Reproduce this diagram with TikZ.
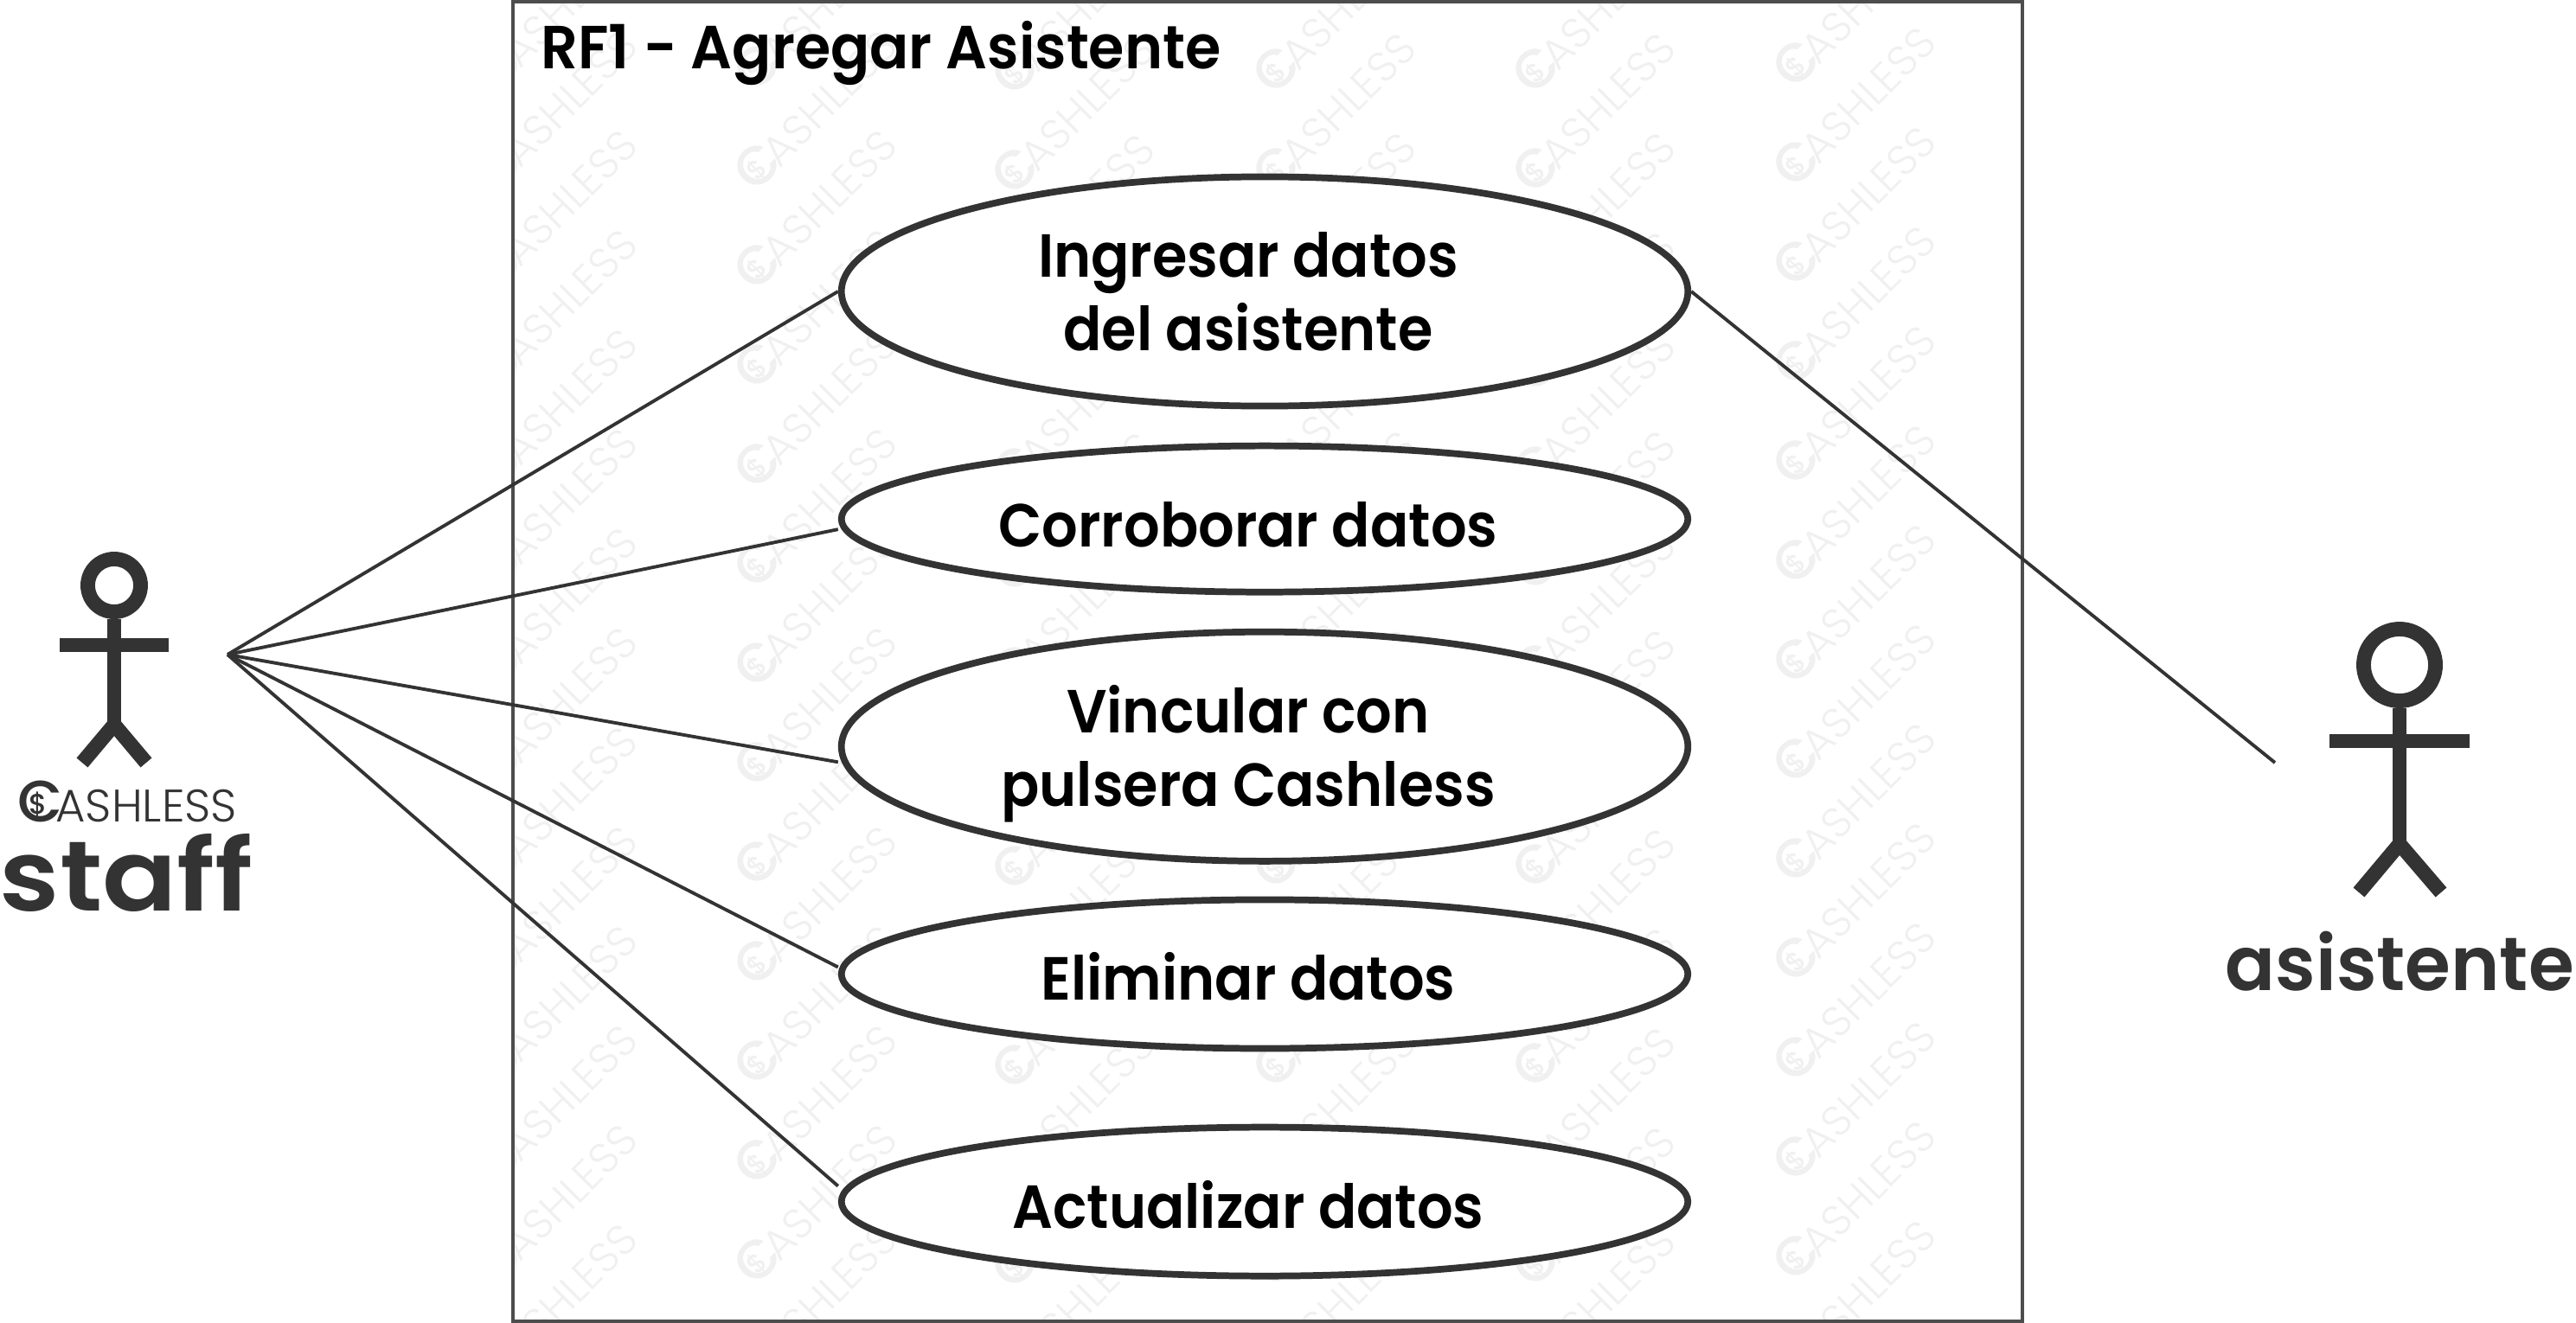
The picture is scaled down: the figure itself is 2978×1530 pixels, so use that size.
\documentclass[tikz,border=0pt]{standalone}
\usepackage{fontspec}
\usetikzlibrary{shapes.geometric}
\newfontfamily\semifont[FakeStretch=.93]{Poppins SemiBold}
\newfontfamily\titlefont[FakeStretch=.95]{Poppins SemiBold}
\newfontfamily\staffont[FakeStretch=1.11]{Poppins SemiBold}
\newfontfamily\guestfont[FakeStretch=.98]{Poppins SemiBold}
\newfontfamily\medfont{Poppins Medium}
\newfontfamily\lightfont{Poppins Light}
\definecolor{ink}{HTML}{333333}
\definecolor{boxgrey}{HTML}{4D4D4D}
\definecolor{wmgrey}{HTML}{F0F0F0}
% the round C with a dollar in it, then the rest of the word
\newsavebox{\ringbox}
\newcommand{\cashlogo}[1]{{\lightfont\fontsize{#1}{#1}\selectfont\mbox{\sbox{\ringbox}{\medfont\fontsize{1.28\dimexpr#1pt\relax}{#1}\selectfont C}\usebox{\ringbox}\llap{\makebox[\wd\ringbox][c]{\raisebox{.16em}{\medfont\fontsize{.62\dimexpr#1pt\relax}{#1}\selectfont\$}\kern.1em}}\kern-.16em ASHLESS}}}
\newcommand{\lft}{\hspace*{.38cm}}
\tikzset{
    usecase/.style={ellipse, draw=ink, fill=white, line width=2.2pt, inner sep=0pt, minimum width=9.78cm,
        align=center, text=black, font=\semifont\fontsize{20}{24.2}\selectfont},
    link/.style={draw=ink, line width=1.1pt},
    actorline/.style={draw=ink, line width=4.8pt},
    actorname/.style={text=ink, inner sep=0pt, anchor=base west},
    mark wm/.style={text=wmgrey, rotate=45, inner sep=0pt}
}
\begin{document}
\begin{tikzpicture}[x=.01cm, y=-.01cm, node distance=2.63cm]
    \useasboundingbox (0,0) rectangle (2978,1530);

    % Watermark, only inside the frame
    \begin{scope}
        \clip (593,2) rectangle (2338,1528);
        \foreach \cx/\cy in {574/77, 874/77, 1172/82, 1474/80, 1774/80, 2075/73}
            \foreach \j in {-1,...,13}
                \node [mark wm] (wm-\cx-\j) at (\cx+67,\cy-67+115*\j) {\cashlogo{14}};
    \end{scope}

    % Frame and title
    \draw [draw=boxgrey, line width=1.1pt] (593,2) rectangle (2338,1528);
    \node [inner sep=0pt, anchor=base west, text=black, font=\titlefont\fontsize{20}{24}\selectfont] (title) at (625,79) {RF1 - Agregar Asistente};

    % Use cases
    \node [usecase, minimum height=2.65cm, text depth=-1.1pt]             (e1) at (1462,337)  {Ingresar datos\lft\\del asistente\lft};
    \node [usecase, minimum height=1.69cm, text height=18.2pt, text depth=0pt]  (e2) [below of=e1]  {Corroborar datos\lft};
    \node [usecase, minimum height=2.65cm, text depth=.5pt]               (e3) [below of=e2]  {Vincular con\lft\\pulsera Cashless\lft};
    \node [usecase, minimum height=1.72cm, text height=17pt, text depth=0pt]    (e4) [below of=e3]  {Eliminar datos\lft};
    \node [usecase, minimum height=1.72cm, text height=17.6pt, text depth=0pt]  (e5) [below of=e4]  {Actualizar datos\lft};

    % Connector ends
    \coordinate (hub) at (263,757);
    \coordinate (guest) at (2630,882);

    % Paths
    \path [link] (hub) -- (e1.west);
    \path [link] (hub) -- ([yshift=-.12cm]e2.west);
    \path [link] (hub) -- ([yshift=-.18cm]e3.west);
    \path [link] (hub) -- ([yshift=.08cm]e4.west);
    \path [link] (hub) -- ([yshift=.18cm]e5.west);
    \path [link] (e1.east) -- (guest);

    % Actor staff
    \draw [actorline] (132,677) circle (.305cm);
    \draw [actorline] (132,716) -- (132,843);
    \draw [actorline] (69,746) -- (195,746);
    \draw [actorline, miter limit=1] (95,882) -- (132,838) -- (169,882);
    \node [actorname] (logo) at (20,950) {\cashlogo{15}};
    \node [actorname, font=\staffont\fontsize{32.6}{36}\selectfont] (staff) at (-1,1053) {staff};

    % Actor asistente
    \draw [actorline] (2774,769) circle (.415cm);
    \draw [actorline] (2774,819) -- (2774,982);
    \draw [actorline] (2693,857) -- (2855,857);
    \draw [actorline, miter limit=1] (2727,1032) -- (2774,976) -- (2822,1032);
    \node [actorname, font=\guestfont\fontsize{24.8}{28}\selectfont] (guestname) at (2572,1145) {asistente};
\end{tikzpicture}
\end{document}
